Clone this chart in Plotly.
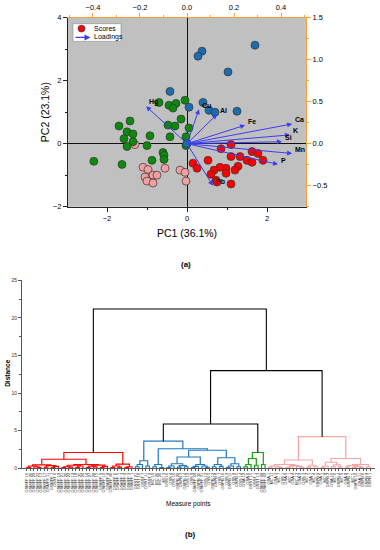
import plotly.graph_objects as go

FONT = "Arial, Liberation Sans, sans-serif"

# ---------------- PCA scores (PC1, PC2) ----------------
red_pc1 = [0.15, 0.25, 0.525, 0.85, 1.1, 1.1, 1.325, 1.5, 1.625, 1.625, 1.775, 1.9, 1.275, 1.2, 0.975, 0.975, 0.825, 0.675, 0.6, 0.725, 1.1, 0.75]
red_pc2 = [-0.62, -0.78, -0.53, -0.16, -0.03, -0.41, -0.41, -0.53, -0.59, -0.25, -0.31, -0.53, -0.72, -0.84, -0.78, -0.94, -0.75, -0.84, -0.97, -1.16, -1.28, -1.22]

pink_pc1 = [-1.3, -1.1, -0.975, -1.05, -1.0, -0.85, -0.75, -0.85, -0.55, -0.175, -0.05, -0.025]
pink_pc2 = [-0.03, -0.75, -0.82, -1.06, -1.19, -1.0, -1.0, -1.25, -0.78, -0.84, -0.91, -1.19]

green_pc1 = [-0.7, -0.45, -0.275, -0.35, -0.05, -0.15, -1.425, -1.7, -1.5, -1.35, -1.575, -1.35, -0.925, -0.475, -0.3, -0.425, 0.05, -0.025, -1.5, -1.0, -2.33, -1.625, -0.875, -0.6, -0.575, -0.575, -0.025]
green_pc2 = [1.31, 1.22, 1.28, 1.13, 1.38, 0.78, 0.72, 0.56, 0.375, 0.31, 0.16, 0.06, 0.25, 0.59, 0.56, 0.22, 0.5, 0.22, -0.09, -0.06, -0.56, -0.66, -0.53, -0.28, -0.37, -0.5, -0.06]

blue_pc1 = [1.7, 0.375, 0.275, 1.025, 0.4, 0.55, 0.7, 1.25, 0.05, -0.425, 0.0]
blue_pc2 = [3.13, 2.94, 2.78, 2.28, 1.31, 1.06, 1.0, 1.03, 1.16, 1.66, 0.0]

# ---------------- Loadings ----------------
load_names = ["Hg", "Cu", "Al", "Fe", "Ca", "K", "Si", "Mn", "P", "Pb"]
load_x = [-0.174, 0.051, 0.128, 0.247, 0.447, 0.438, 0.404, 0.447, 0.387, 0.11]
load_y = [0.445, 0.41, 0.35, 0.22, 0.235, 0.105, 0.023, -0.117, -0.246, -0.5]

# ---------------- Dendrogram ----------------
# trees: [height, left, right]; None = leaf (labels assigned in order)
red_tree = [2.1,
            [1.2,
             [0.45, [0.3, [0.12, None, None], [0.2, None, [0.08, None, None]]],
                    [0.35, [0.15, None, None], [0.25, [0.1, None, None], None]]],
             [0.5, [0.4, [0.2, [0.1, None, None], [0.15, None, None]], [0.3, [0.12, None, None], None]],
                   [0.42, [0.28, [0.1, None, None], [0.18, None, None]], [0.25, [0.08, None, None], None]]]],
            [0.55, [0.3, [0.1, None, None], [0.15, None, None]], [0.2, [0.08, None, None], None]]]

blue_tree = [3.6,
             [1.0, [0.5, [0.2, None, None], None], [0.3, None, None]],
             [2.6,
              [0.5, [0.2, None, None], [0.1, None, None]],
              [2.4,
               [1.5, [0.6, [0.3, [0.1, None, None], None], [0.35, [0.15, None, None], [0.2, None, None]]],
                     [0.5, [0.25, [0.1, None, None], None], [0.3, None, [0.12, None, None]]]],
               [1.4, [0.5, [0.2, None, None], [0.25, None, None]],
                     [0.6, [0.3, [0.1, None, None], None], [0.2, None, None]]]]]]

green_tree = [2.1, [1.3, [0.5, [0.2, None, None], None], [0.4, None, None]], [0.5, None, None]]

pink_tree = [4.2,
             [1.1,
              [0.5, [0.3, [0.15, None, None], [0.2, None, [0.08, None, None]]],
                    [0.35, [0.2, [0.1, None, None], None], [0.25, None, [0.1, None, None]]]],
              [0.4, [0.15, None, None], [0.2, None, None]]],
             [1.3,
              [0.8, [0.3, [0.1, None, None], None], [0.45, [0.2, None, None], [0.15, None, None]]],
              [0.5, [0.35, [0.15, None, None], [0.25, [0.1, None, None], [0.12, None, None]]], [0.2, None, None]]]]

top_tree = [21.2, "red", [13.0, [5.9, "blue", "green"], "pink"]]

leaf_labels = [
    # red
    "GSMFF 16", "GSMFF 26", "GSMFF 29", "GSMFF 23", "GSMFF 13", "GSMFF 17", "GSMFF 11", "GSMFF 7", "GSST 6", "GSMFF 19",
    "GSMFF 21", "GSMFF 20", "GSMFF 22", "GSMFF 12", "GSMFF 18", "GSMFF 25", "GSMFF 24", "GSMFF 14", "GSMFF 27", "GSMFF 28",
    "GSMFF 15", "GSMFF 9", "GSMFF 10", "GSMFF 8", "GSMFF 30", "GSMFF 6", "GSMFF 5", "GSMFF 3", "GSMFF 4", "GSMFF 2", "GSMFF 1",
    # blue
    "GSST 21", "GSST 10", "GSST 7", "GSST 11", "GSST 9", "MC 19", "MC 26", "MC 20", "MC 3", "GSS 16",
    "GSS 4", "GSS 10", "GSPB 20", "GSPB 3", "GSPB 14", "GSS 12", "GSS 8", "GSMFF 44", "GSPB 30", "GSMFF 31",
    "GSS 13", "GSS 5", "GSPB 12", "GSPB 8", "GSS 7", "GSPB 16", "GSS 2", "GSPB 11", "GSS 9", "GSPB 5", "GSS 14",
    # green
    "GSA 12", "GSA 6", "GSST 15", "GSST 1", "GSST 13", "GSMFF 48", "GSMFF 42",
    # pink
    "GSA 1", "MC 11", "GSA 3", "MC 7", "GSS 1", "GSA 9", "MC 1", "GSA 4", "MC 13", "GSA 2",
    "GSS 3", "MC 2", "GSA 7", "MC 4", "GSPB 9", "GSA 5", "MC 8", "GSPB 2", "GSA 10", "MC 6",
    "GSPB 4", "MC 9", "GSA 8", "GSPB 7", "MC 5", "GSPB 10", "GSA 11", "GSPB 6", "GSPB 8", "GSPB 1",
]

legend_items = ["Scores", "Loadings"]

cluster_trees = {"red": red_tree, "blue": blue_tree, "green": green_tree, "pink": pink_tree}
cluster_colors = {"red": "#ff0000", "blue": "#1f78c1", "green": "#12a012", "pink": "#f7a5a5", "top": "#000000"}

segments = {k: ([], []) for k in cluster_colors}
counter = [0]


def walk(node, ckey):
    if isinstance(node, str):
        return walk(cluster_trees[node], node)
    if node is None:
        x = counter[0]
        counter[0] += 1
        return x, 0.0
    h, left, right = node
    xl, hl = walk(left, ckey)
    xr, hr = walk(right, ckey)
    xs, ys = segments[ckey]
    xs += [xl, xl, xr, xr, None]
    ys += [hl, h, h, hr, None]
    return (xl + xr) / 2.0, h


walk(top_tree, "top")
n_leaves = counter[0]

fig = go.Figure()

# scores
score_sets = [
    (pink_pc1, pink_pc2, "#f5a0a0"),
    (green_pc1, green_pc2, "#0b8a0b"),
    (blue_pc1, blue_pc2, "#1c6db0"),
    (red_pc1, red_pc2, "#ff0000"),
]
for xs, ys, col in score_sets:
    fig.add_trace(go.Scatter(x=xs, y=ys, mode="markers", xaxis="x", yaxis="y", showlegend=False,
                             marker=dict(size=8, color=col, line=dict(color="#333333", width=0.7))))

ARROW = "#3c3cf0"
# invisible trace so that the loading axes exist
fig.add_trace(go.Scatter(x=[None], y=[None], xaxis="x2", yaxis="y2", mode="lines", showlegend=False))

for nm, lx, ly in zip(load_names, load_x, load_y):
    fig.add_annotation(x=lx, y=ly, ax=0, ay=0, xref="x2", yref="y2", axref="x2", ayref="y2",
                       showarrow=True, arrowhead=2, arrowsize=1, arrowwidth=1, arrowcolor=ARROW,
                       standoff=0, text="")
    fig.add_annotation(x=lx, y=ly, xref="x2", yref="y2", text="<b>" + nm + "</b>", showarrow=False,
                       xanchor="left", yanchor="middle", xshift=1, yshift=4,
                       font=dict(family=FONT, size=7, color="black"))

# dendrogram lines
for ckey, (xs, ys) in segments.items():
    fig.add_trace(go.Scatter(x=xs, y=ys, mode="lines", xaxis="x3", yaxis="y3", showlegend=False,
                             line=dict(color=cluster_colors[ckey], width=1.2 if ckey != "top" else 1.1),
                             hoverinfo="skip"))

W, H = 380, 550
pca_x0, pca_x1 = 68 / W, 306 / W
pca_y0, pca_y1 = (H - 206) / H, (H - 14) / H
den_x0, den_x1 = 22 / W, 375 / W
den_y0, den_y1 = (H - 472) / H, (H - 281) / H

ORANGE = "#f6a23c"
tickf = dict(family=FONT, size=7.5, color="black")

fig.add_shape(type="rect", xref="x domain", yref="y domain", x0=0, x1=1, y0=0, y1=1,
              fillcolor="#c0c0c0", line=dict(width=0), layer="below")

# legend box (drawn manually: Origin-style compact legend)
fig.add_shape(type="rect", xref="paper", yref="paper", x0=73 / W, x1=121 / W, y0=1 - 38 / H, y1=1 - 20 / H,
              fillcolor="white", line=dict(color="#888888", width=0.6), layer="above")
fig.add_shape(type="circle", xref="paper", yref="paper", x0=78 / W, x1=85 / W, y0=1 - 28.5 / H, y1=1 - 21.5 / H,
              fillcolor="#ff0000", line=dict(color="#333333", width=0.6), layer="above")
fig.add_annotation(x=90.5 / W, y=1 - 34 / H, ax=-16.5, ay=0, xref="paper", yref="paper",
                   axref="pixel", ayref="pixel", showarrow=True, arrowhead=2, arrowsize=1, arrowwidth=1.2,
                   arrowcolor=ARROW, standoff=0, text="")
fig.add_annotation(x=92 / W, y=1 - 25 / H, xref="paper", yref="paper", text=legend_items[0], showarrow=False,
                   xanchor="left", yanchor="middle", font=dict(family=FONT, size=7, color="black"))
fig.add_annotation(x=92 / W, y=1 - 34 / H, xref="paper", yref="paper", text=legend_items[1], showarrow=False,
                   xanchor="left", yanchor="middle", font=dict(family=FONT, size=7, color="black"))

fig.update_layout(
    width=W, height=H, margin=dict(l=0, r=0, t=0, b=0),
    paper_bgcolor="white", plot_bgcolor="rgba(0,0,0,0)",
    font=dict(family=FONT, color="black"),
    showlegend=False,
    xaxis=dict(domain=[pca_x0, pca_x1], range=[-2.975, 2.975], anchor="y", showgrid=False,
               showline=True, linecolor="#222", linewidth=1, ticks="outside", ticklen=4, tickcolor="#222",
               tick0=0, dtick=2, minor=dict(ticks="outside", ticklen=2, dtick=1, tickcolor="#222"),
               zeroline=True, zerolinecolor="#111", zerolinewidth=1, tickfont=tickf),
    yaxis=dict(domain=[pca_y0, pca_y1], range=[-2, 4], anchor="x", showgrid=False,
               showline=True, linecolor="#222", linewidth=1, ticks="outside", ticklen=4, tickcolor="#222",
               tick0=0, dtick=2, minor=dict(ticks="outside", ticklen=2, dtick=1, tickcolor="#222"),
               zeroline=True, zerolinecolor="#111", zerolinewidth=1, tickfont=tickf),
    xaxis2=dict(overlaying="x", side="top", anchor="y", range=[-0.506, 0.506], showgrid=False, zeroline=False,
                showline=True, linecolor=ORANGE, linewidth=1.2, ticks="outside", ticklen=4, tickcolor=ORANGE,
                tick0=0, dtick=0.2, tickformat=".1f",
                minor=dict(ticks="outside", ticklen=2, dtick=0.1, tickcolor=ORANGE), tickfont=tickf),
    yaxis2=dict(overlaying="y", side="right", anchor="x", range=[-0.75, 1.5], showgrid=False, zeroline=False,
                showline=True, linecolor=ORANGE, linewidth=1.2, ticks="outside", ticklen=4, tickcolor=ORANGE,
                tick0=0, dtick=0.5, tickformat=".1f",
                minor=dict(ticks="outside", ticklen=2, dtick=0.25, tickcolor=ORANGE), tickfont=tickf),
    xaxis3=dict(domain=[den_x0, den_x1], range=[-1.4, n_leaves - 1 + 1.4], anchor="y3", showgrid=False,
                zeroline=False, showline=True, linecolor="#555", linewidth=1, ticks="outside", ticklen=2,
                tickcolor="#555", tickvals=list(range(n_leaves)), ticktext=leaf_labels, tickangle=-90,
                tickfont=dict(family=FONT, size=4, color="#222")),
    yaxis3=dict(domain=[den_y0, den_y1], range=[0, 25], anchor="x3", showgrid=False, zeroline=False,
                showline=True, linecolor="#555", linewidth=1, ticks="outside", ticklen=3, tickcolor="#555",
                tick0=0, dtick=5, minor=dict(ticks="outside", ticklen=2, dtick=2.5, tickcolor="#555"),
                tickfont=dict(family=FONT, size=5, color="#333")),
)

ann = [
    dict(text="PC1 (36.1%)", x=187 / W, y=1 - 233 / H, size=10.5, bold=False, angle=0),
    dict(text="PC2 (23.1%)", x=45 / W, y=1 - 110 / H, size=10.5, bold=False, angle=-90),
    dict(text="(a)", x=186 / W, y=1 - 265 / H, size=8, bold=True, angle=0),
    dict(text="Distance", x=8 / W, y=1 - 376 / H, size=6.5, bold=True, angle=-90),
    dict(text="Measure points", x=188 / W, y=1 - 508 / H, size=6.5, bold=False, angle=0),
    dict(text="(b)", x=190 / W, y=1 - 539 / H, size=8, bold=True, angle=0),
]
for a in ann:
    t = "<b>" + a["text"] + "</b>" if a["bold"] else a["text"]
    fig.add_annotation(text=t, x=a["x"], y=a["y"], xref="paper", yref="paper", showarrow=False,
                       xanchor="center", yanchor="middle", textangle=a["angle"],
                       font=dict(family=FONT, size=a["size"], color="black"))

fig.write_html("out.html", config={"displayModeBar": False},
               post_script="document.body.style.margin='0';document.body.style.padding='0';")
